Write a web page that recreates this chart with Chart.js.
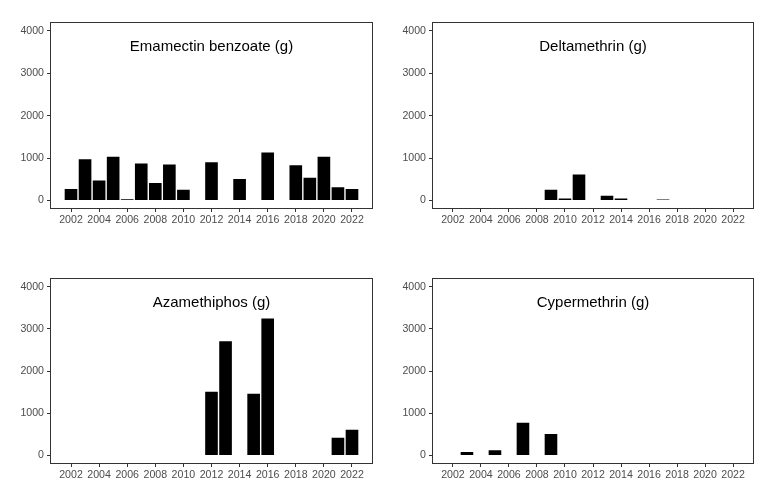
<!DOCTYPE html>
<html lang="en">
<head>
    <meta charset="UTF-8">
    <title>Antiparasitic use by year</title>
    <script src="https://cdn.jsdelivr.net/npm/chart.js"></script>
    <style>
        body { margin: 0; background: #fff; }
        #wrap { position: relative; width: 772px; height: 499px; }
        canvas { position: absolute; }
    </style>
</head>
<body>
<div id="wrap">
    <canvas id="c1"></canvas>
    <canvas id="c2"></canvas>
    <canvas id="c3"></canvas>
    <canvas id="c4"></canvas>
</div>
<script>
    // data (grams per year)
    var years = [2002, 2003, 2004, 2005, 2006, 2007, 2008, 2009, 2010, 2011, 2012,
                 2013, 2014, 2015, 2016, 2017, 2018, 2019, 2020, 2021, 2022];
    var emamectin = [270, 970, 470, 1030, 30, 875, 410, 850, 255, null, 905,
                     null, 510, null, 1130, null, 830, 535, 1030, 310, 270];
    var deltamethrin = [null, null, null, null, null, null, null, 255, 50, 615, null,
                        115, 50, null, null, 25, null, null, null, null, null];
    var azamethiphos = [null, null, null, null, null, null, null, null, null, null, 1510,
                        2710, null, 1465, 3250, null, null, null, null, 420, 610];
    var cypermethrin = [null, 85, null, 125, null, 775, null, 510, null, null, null,
                        null, null, null, null, null, null, null, null, null, null];
    var xTicks = [2002, 2004, 2006, 2008, 2010, 2012, 2014, 2016, 2018, 2020, 2022];
    var yTicks = [0, 1000, 2000, 3000, 4000];

    var AXIS_W = 50, AXIS_H = 25, PAD_T = 6, PAD_R = 10;
    var tickFont = { family: '"Liberation Sans", Arial, sans-serif', size: 10.6 };

    // panel box + inner title
    var panelDeco = {
        id: 'panelDeco',
        afterDraw: function(chart, args, opts) {
            var a = chart.chartArea, ctx = chart.ctx;
            ctx.save();
            ctx.strokeStyle = '#333333';
            ctx.lineWidth = 1;
            ctx.strokeRect(Math.round(a.left) + 0.5, Math.round(a.top) + 0.5,
                           Math.round(a.right - a.left) - 1, Math.round(a.bottom - a.top) - 1);
            ctx.fillStyle = '#000';
            ctx.font = '15px "Liberation Sans", Arial, sans-serif';
            ctx.textAlign = 'center';
            ctx.textBaseline = 'middle';
            ctx.fillText(opts.text, (a.left + a.right) / 2, a.top + 24);
            ctx.restore();
        }
    };

    function makePanel(id, title, values, box) {
        var cv = document.getElementById(id);
        var w = box.w + AXIS_W + PAD_R, h = box.h + AXIS_H + PAD_T;
        cv.width = w; cv.height = h;
        cv.style.left = (box.left - AXIS_W) + 'px';
        cv.style.top = (box.top - PAD_T) + 'px';
        cv.style.width = w + 'px'; cv.style.height = h + 'px';

        return new Chart(cv.getContext('2d'), {
            type: 'bar',
            data: {
                datasets: [{
                    data: years.map(function(y, i) { return { x: y, y: values[i] }; }),
                    backgroundColor: '#000000',
                    borderWidth: 0,
                    barPercentage: 0.9,
                    categoryPercentage: 1.0
                }]
            },
            options: {
                responsive: false,
                animation: false,
                layout: { padding: { top: PAD_T, right: PAD_R, left: 0, bottom: 0 } },
                plugins: {
                    legend: { display: false },
                    tooltip: { enabled: false },
                    panelDeco: { text: title }
                },
                scales: {
                    x: {
                        type: 'linear',
                        offset: false,
                        min: 2000.505,
                        max: 2023.495,
                        afterBuildTicks: function(s) { s.ticks = xTicks.map(function(v) { return { value: v }; }); },
                        afterFit: function(s) { s.height = AXIS_H; },
                        grid: { offset: false, drawOnChartArea: false, drawTicks: true, tickLength: 3, tickColor: '#333333' },
                        border: { display: false },
                        ticks: { font: tickFont, color: '#4d4d4d', padding: 2, maxRotation: 0, autoSkip: false,
                                 callback: function(v) { return String(v); } }
                    },
                    y: {
                        min: -200,
                        max: 4200,
                        afterBuildTicks: function(s) { s.ticks = yTicks.map(function(v) { return { value: v }; }); },
                        afterFit: function(s) { s.width = AXIS_W; },
                        grid: { drawOnChartArea: false, drawTicks: true, tickLength: 3, tickColor: '#333333' },
                        border: { display: false },
                        ticks: { font: tickFont, color: '#4d4d4d', padding: 3,
                                 callback: function(v) { return String(v); } }
                    }
                }
            },
            plugins: [panelDeco]
        });
    }

    makePanel('c1', 'Emamectin benzoate (g)', emamectin, { left: 50, top: 19, w: 323, h: 190 });
    makePanel('c2', 'Deltamethrin (g)', deltamethrin, { left: 432, top: 19, w: 322, h: 190 });
    makePanel('c3', 'Azamethiphos (g)', azamethiphos, { left: 50, top: 275, w: 323, h: 189 });
    makePanel('c4', 'Cypermethrin (g)', cypermethrin, { left: 432, top: 275, w: 322, h: 189 });
</script>
</body>
</html>
